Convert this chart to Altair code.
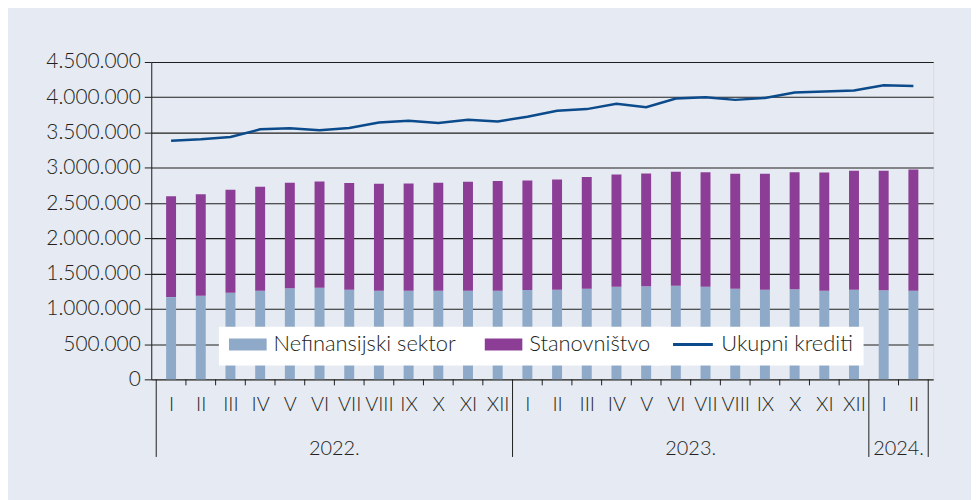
import altair as alt
import pandas as pd

# ---------------- data ----------------
months = ["I", "II", "III", "IV", "V", "VI", "VII", "VIII", "IX", "X", "XI", "XII",
          "I", "II", "III", "IV", "V", "VI", "VII", "VIII", "IX", "X", "XI", "XII",
          "I", "II"]
nefinansijski = [1166000, 1185000, 1227000, 1255000, 1293000, 1298000, 1269000, 1255000,
                 1255000, 1255000, 1255000, 1255000, 1266000, 1269000, 1283000, 1312000,
                 1321000, 1326000, 1312000, 1283000, 1269000, 1279000, 1255000, 1269000,
                 1264000, 1255000]
stanovnistvo = [1429000, 1438000, 1462000, 1476000, 1494000, 1508000, 1514000, 1518000,
                1523000, 1532000, 1546000, 1556000, 1554000, 1566000, 1585000, 1594000,
                1599000, 1617000, 1626000, 1631000, 1645000, 1659000, 1679000, 1688000,
                1693000, 1721000]
ukupni = [3385000, 3404000, 3437000, 3545000, 3559000, 3531000, 3564000, 3643000,
          3667000, 3634000, 3681000, 3657000, 3723000, 3808000, 3832000, 3907000,
          3860000, 3982000, 4001000, 3963000, 3991000, 4067000, 4081000, 4095000,
          4170000, 4161000]
years = ["2022.", "2023.", "2024."]
year_start = [0, 12, 24]
year_end = [12, 24, 26]
y_ticks = [0, 500000, 1000000, 1500000, 2000000, 2500000, 3000000, 3500000, 4000000, 4500000]

series_names = ["Nefinansijski sektor", "Stanovništvo"]
line_name = "Ukupni krediti"

# ---------------- tables ----------------
n = len(months)
pos = [i + 0.5 for i in range(n)]
bars = pd.DataFrame({
    "pos": pos * 2,
    "series": [series_names[0]] * n + [series_names[1]] * n,
    "order": [0] * n + [1] * n,
    "value": nefinansijski + stanovnistvo,
})
line = pd.DataFrame({"pos": pos, "total": ukupni, "series": [line_name] * n})
bounds = sorted(set(year_start + year_end))
minor = pd.DataFrame({"pos": [i for i in range(1, n) if i not in bounds]})
major = pd.DataFrame({"pos": bounds})
yr = pd.DataFrame({"pos": [(a + b) / 2 for a, b in zip(year_start, year_end)], "label": years})

# ---------------- styles ----------------
FONT = "Lato"
W = 300
TXT = "#231f20"
DARK = "#1e1e1e"
BLUE = "#8eaac8"
PURPLE = "#8c3e96"
NAVY = "#0b4a8b"
BG = "#e6eaf2"
AXFS = 20

month_arr = "[" + ",".join("'%s'" % m for m in months) + "]"
xenc = alt.X(
    "pos:Q",
    scale=alt.Scale(domain=[0, n], nice=False, zero=False),
    axis=alt.Axis(values=pos, labelExpr=month_arr + "[floor(datum.value)]",
                  ticks=False, tickSize=0, domain=False, grid=False, title=None,
                  labelFont=FONT, labelFontWeight=W, labelFontSize=AXFS, labelColor=TXT,
                  labelPadding=15, labelAngle=0),
)
yaxis = alt.Axis(values=y_ticks, format=",d", title=None, grid=True, gridColor=DARK,
                 gridWidth=1.1, tickSize=7, tickColor=DARK, domainColor=DARK,
                 labelFont=FONT, labelFontWeight=W, labelFontSize=21, labelColor=TXT,
                 labelPadding=4)
yscale = alt.Scale(domain=[0, 4500000], nice=False)

bar_layer = alt.Chart(bars).mark_bar(size=10).encode(
    x=xenc,
    y=alt.Y("value:Q", stack="zero", scale=yscale, axis=yaxis),
    fill=alt.Fill("series:N", scale=alt.Scale(domain=series_names, range=[BLUE, PURPLE]),
                  legend=alt.Legend(orient="none", legendX=68, legendY=266,
                                    direction="horizontal", title=None, fillColor="white",
                                    padding=10, clipHeight=16,
                                    symbolType="M-1,-0.32H1V0.32H-1Z", symbolSize=1444,
                                    symbolStrokeWidth=0, labelFont=FONT, labelFontWeight=W,
                                    labelFontSize=22, labelLimit=400,
                                    labelColor=TXT, labelOffset=7, columnPadding=28)),
    order=alt.Order("order:Q"),
)

line_layer = alt.Chart(line).mark_line(strokeWidth=2.5).encode(
    x=xenc,
    y=alt.Y("total:Q", scale=yscale, axis=yaxis),
    stroke=alt.Stroke("series:N", scale=alt.Scale(domain=[line_name], range=[NAVY]),
                      legend=alt.Legend(orient="none", legendX=505, legendY=266,
                                        direction="horizontal", title=None,
                                        fillColor="white", padding=10, clipHeight=16,
                                        symbolOffset=8,
                                        symbolType="stroke", symbolSize=1600,
                                        symbolStrokeWidth=3, labelFont=FONT,
                                        labelFontWeight=W, labelLimit=400,
                                        labelFontSize=22, labelColor=TXT, labelOffset=7)),
)

minor_ticks = alt.Chart(minor).mark_rule(color=DARK, strokeWidth=1).encode(
    x=xenc, y=alt.value(319), y2=alt.value(325)
)
major_ticks = alt.Chart(major).mark_rule(color=DARK, strokeWidth=1).encode(
    x=xenc, y=alt.value(319), y2=alt.value(397)
)
year_text = alt.Chart(yr).mark_text(font=FONT, fontWeight=W, fontSize=AXFS, color=TXT,
                                    baseline="alphabetic", align="center").encode(
    x=xenc, y=alt.value(395), text="label:N"
)

chart = alt.layer(bar_layer, line_layer, minor_ticks, major_ticks, year_text).properties(
    width=786, height=319,
    autosize=alt.AutoSizeParams(type="none"),
    padding={"left": 144, "top": 53, "right": 38, "bottom": 122},
    background=BG,
).resolve_scale(fill="independent", stroke="independent").configure_view(
    stroke=DARK, strokeWidth=1
).configure(
    locale={"number": {"decimal": ",", "thousands": ".", "grouping": [3], "currency": ["", ""]}}
)

chart.save("out.html", embed_options={"renderer": "svg", "actions": False})
